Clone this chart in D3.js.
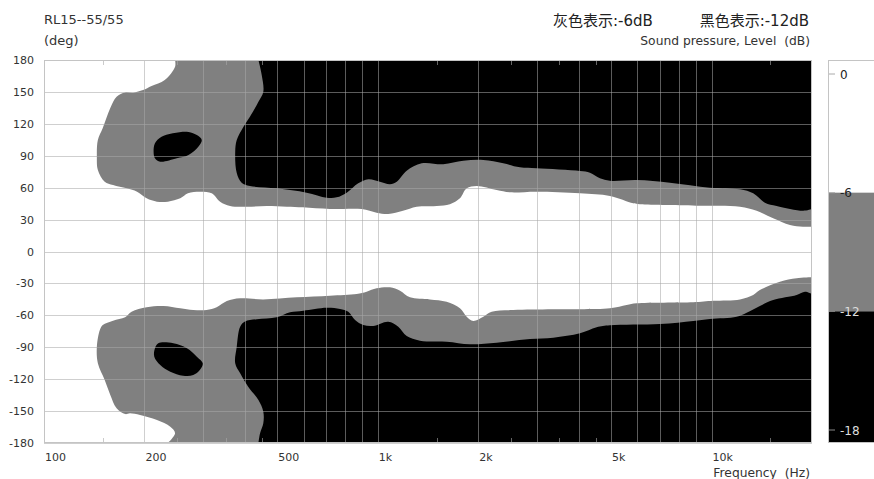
<!DOCTYPE html>
<html>
<head>
<meta charset="utf-8">
<script src="https://cdn.jsdelivr.net/npm/d3@7"></script>
<style>
  body { margin: 0; background: #fff; }
  svg { display: block; font-family: "DejaVu Sans", "Noto Sans CJK SC", sans-serif; }
</style>
</head>
<body>
<svg id="chart" width="874" height="479"></svg>
<script>
// ── data: contour boundaries, [Hz, deg] ──
const freqLabels   = [[100,"100"],[200,"200"],[500,"500"],[1000,"1k"],[2000,"2k"],[5000,"5k"],[10000,"10k"]];
const gridFreqs    = [200,300,400,500,600,700,800,900,1000,2000,3000,4000,5000,6000,7000,8000,9000,10000];
const minorFreqs   = [150,250,350,450,1500,2500,3500,4500,15000];
const angleTicks   = [180,150,120,90,60,30,0,-30,-60,-90,-120,-150,-180];
const levelTicks   = [0,-6,-12,-18];

// -6 dB contour, upper half (top edge -> left bulge -> right edge)
const upper6 = [[247,180],[247,173.7],[230,161.2],[210,155.6],[198,151.8],[185,149.3],[175,149.5],
  [165,145.5],[158,134.9],[150,116.1],[145,104.8],[144,89.1],[145,76.6],[152,65.6],[161,62.5],
  [177,59.4],[190,56.2],[203,50.0],[218,46.8],[235,46.8],[256,50.0],[270,54.7],[293,56.2],[318,54.7],
  [337,46.8],[361,42.8],[405,42.1],[465,42.8],[534,42.1],[597,41.5],[719,39.9],[895,39.9],[992,36.5],
  [1075,35.2],[1190,38.3],[1308,42.1],[1502,42.8],[1645,44.4],[1763,50.0],[1847,59.4],[1978,61.6],
  [2271,57.8],[2489,55.6],[2992,56.2],[4035,54.7],[4961,52.2],[5826,45.3],[6102,44.4],[9234,43.0],
  [12170,42.1],[13650,38.3],[15300,31.2],[17180,24.9],[18780,23.3],[20000,23.3]];

// -12 dB contour, upper half
const upper12 = [[439,180],[449,165.9],[454,150.2],[439,140.8],[414,126.7],[396,117.3],[378,104.8],
  [374,93.8],[378,73.8],[391,64.7],[414,61.6],[498,59.4],[612,55.3],[703,50.6],[753,50.9],[807,55.3],
  [874,64.1],[937,67.9],[1015,65.6],[1088,63.2],[1140,65.6],[1221,75.9],[1354,82.9],[1571,82.0],
  [1804,85.3],[2071,86.0],[2377,82.9],[2667,79.1],[2992,78.2],[4035,75.7],[4323,74.1],[4631,68.8],
  [4961,66.5],[5964,67.2],[7506,64.7],[9890,60.0],[12170,58.5],[13330,54.7],[14450,45.9],[15670,42.8],
  [18820,38.3],[20000,39.9]];

// -12 dB island, upper half
const upperIsland = [[215,101.7],[225,107.9],[268,112.6],[287,109.5],[297,104.8],[290,98.5],[271,90.7],
  [250,87.6],[223,84.4],[215,87.6],[213,93.8]];

// -6 dB contour, lower half
const lower6 = [[235,-180],[247,-170.9],[239,-164.7],[218,-158.4],[194,-153.7],[181,-152.1],[175,-152.8],
  [165,-147.4],[158,-134.9],[152,-120.8],[145,-105.1],[144,-89.5],[147,-73.8],[150,-69.1],[161,-65.0],
  [175,-61.9],[183,-56.6],[203,-52.4],[228,-51.2],[256,-53.4],[280,-55.0],[307,-55.0],[329,-52.4],
  [353,-46.5],[387,-44.0],[454,-45.0],[572,-43.1],[719,-41.6],[865,-40.0],[926,-37.8],[992,-34.6],
  [1088,-33.7],[1166,-36.9],[1249,-43.1],[1433,-45.0],[1608,-47.2],[1763,-53.4],[1847,-61.3],
  [1932,-65.3],[2071,-61.3],[2194,-56.6],[2546,-55.0],[3356,-54.3],[4961,-53.4],[5566,-50.3],
  [5964,-48.7],[8814,-47.7],[10120,-46.3],[12170,-45.0],[13330,-40.9],[13960,-36.2],[16030,-28.4],
  [17990,-25.2],[20000,-24.3]];

// -12 dB contour, lower half
const lower12 = [[439,-180],[444,-170.9],[454,-161.5],[454,-150.6],[439,-139.6],[409,-127.1],[387,-114.5],
  [374,-105.1],[378,-89.5],[387,-70.7],[400,-65.8],[434,-63.7],[498,-61.9],[546,-57.2],[598,-55.6],
  [703,-52.8],[771,-54.0],[816,-56.6],[855,-64.4],[905,-69.1],[969,-70.0],[1075,-66.0],[1152,-70.7],
  [1221,-79.4],[1338,-83.8],[1608,-84.8],[1889,-87.2],[2271,-85.7],[2858,-82.3],[3356,-81.0],
  [4035,-76.9],[4527,-71.2],[4961,-69.4],[7004,-68.2],[8814,-65.3],[9890,-63.4],[11890,-61.3],
  [12740,-57.5],[13960,-51.2],[15300,-45.6],[17990,-40.9],[19050,-37.8],[20000,-40.0]];

// -12 dB island, lower half
const lowerIsland = [[220,-86.3],[244,-86.3],[268,-91.0],[287,-98.9],[299,-105.1],[293,-111.4],
  [280,-116.1],[261,-116.7],[239,-113.0],[223,-106.7],[214,-98.9],[215,-91.0]];

// ── layout ──
const svg = d3.select("#chart");
const plot = { left: 44, top: 60, right: 812, bottom: 443 };
const GRAY = "#808080", BLACK = "#000";

const x = d3.scaleLog().domain([100, 20000]).range([plot.left, plot.right]);
const y = d3.scaleLinear().domain([180, -180]).range([plot.top, plot.bottom]);

svg.append("clipPath").attr("id", "clip")
  .append("rect")
    .attr("x", plot.left).attr("y", plot.top)
    .attr("width", plot.right - plot.left).attr("height", plot.bottom - plot.top);

const g = svg.append("g").attr("clip-path", "url(#clip)");

const line = d3.line().x(d => x(d[0])).y(d => y(d[1])).curve(d3.curveCatmullRom.alpha(0.5));
const ring = d3.line().x(d => x(d[0])).y(d => y(d[1])).curve(d3.curveCatmullRomClosed.alpha(0.5));

// region from a contour to the top (or bottom) edge
function band(pts, edge) {
  const ye = y(edge) + (edge > 0 ? -2 : 2);
  return line(pts) + `L${x(20000) + 2},${y(pts[pts.length - 1][1])}` +
         `L${x(20000) + 2},${ye}L${x(pts[0][0])},${ye}Z`;
}

g.append("rect")
  .attr("x", plot.left).attr("y", plot.top)
  .attr("width", plot.right - plot.left).attr("height", plot.bottom - plot.top)
  .attr("fill", "#fff");

g.append("path").attr("d", band(upper6, 180)).attr("fill", GRAY);
g.append("path").attr("d", band(lower6, -180)).attr("fill", GRAY);
g.append("path").attr("d", band(upper12, 180)).attr("fill", BLACK);
g.append("path").attr("d", band(lower12, -180)).attr("fill", BLACK);
g.append("path").attr("d", ring(upperIsland)).attr("fill", BLACK);
g.append("path").attr("d", ring(lowerIsland)).attr("fill", BLACK);

// grid on top of the map
const grid = svg.append("g")
  .attr("stroke", "#a8a8a8").attr("stroke-opacity", 0.55).attr("stroke-width", 1);
grid.selectAll("line.v").data(gridFreqs).join("line")
  .attr("x1", d => Math.round(x(d)) + 0.5).attr("x2", d => Math.round(x(d)) + 0.5)
  .attr("y1", plot.top).attr("y2", plot.bottom);
grid.selectAll("line.h").data(angleTicks).join("line")
  .attr("x1", plot.left).attr("x2", plot.right)
  .attr("y1", d => Math.round(y(d)) + 0.5).attr("y2", d => Math.round(y(d)) + 0.5);

// minor ticks, inside top and bottom edges
const minor = svg.append("g").attr("stroke", "#a8a8a8").attr("stroke-opacity", 0.6);
minor.selectAll("line.b").data(minorFreqs).join("line")
  .attr("x1", d => Math.round(x(d)) + 0.5).attr("x2", d => Math.round(x(d)) + 0.5)
  .attr("y1", plot.bottom).attr("y2", plot.bottom - 5);
minor.selectAll("line.t").data(minorFreqs).join("line")
  .attr("x1", d => Math.round(x(d)) + 0.5).attr("x2", d => Math.round(x(d)) + 0.5)
  .attr("y1", plot.top).attr("y2", plot.top + 5);

// frame
svg.append("rect")
  .attr("x", plot.left + 0.5).attr("y", plot.top + 0.5)
  .attr("width", plot.right - plot.left - 1).attr("height", plot.bottom - plot.top - 1)
  .attr("fill", "none").attr("stroke", "#c4c4c4");

// axis labels
svg.append("g").selectAll("text").data(angleTicks).join("text")
  .attr("x", 34).attr("y", d => y(d) + 4)
  .attr("text-anchor", "end").attr("font-size", 11).attr("fill", "#333")
  .text(d => d);

svg.append("g").selectAll("text").data(freqLabels).join("text")
  .attr("x", d => x(d[0]) + 1).attr("y", 461)
  .attr("font-size", 11).attr("fill", "#333")
  .text(d => d[1]);

// titles
svg.append("text").attr("x", 44).attr("y", 24).attr("font-size", 13).attr("fill", "#333").text("RL15--55/55");
svg.append("text").attr("x", 44).attr("y", 45).attr("font-size", 13).attr("fill", "#333").text("(deg)");
svg.append("text").attr("x", 553).attr("y", 26)
  .attr("font-size", 15).attr("fill", "#222").text("灰色表示:-6dB");
svg.append("text").attr("x", 809).attr("y", 26).attr("text-anchor", "end")
  .attr("font-size", 15).attr("fill", "#222").text("黑色表示:-12dB");
svg.append("text").attr("x", 810).attr("y", 45).attr("text-anchor", "end")
  .attr("font-size", 12.3).attr("fill", "#333").attr("xml:space", "preserve")
  .text("Sound pressure, Level  (dB)");
svg.append("text").attr("x", 810).attr("y", 477).attr("text-anchor", "end")
  .attr("font-size", 12.3).attr("fill", "#333").attr("xml:space", "preserve")
  .text("Frequency  (Hz)");

// colour bar
const lv = d3.scaleLinear().domain([0, -18]).range([74, 430]);
const bar = { left: 828, right: 880, top: 60, bottom: 443 };
const bands = [[bar.top, lv(-6), "#fff"], [lv(-6), lv(-12), GRAY], [lv(-12), bar.bottom, BLACK]];
svg.append("g").selectAll("rect").data(bands).join("rect")
  .attr("x", bar.left).attr("width", bar.right - bar.left)
  .attr("y", d => d[0]).attr("height", d => d[1] - d[0])
  .attr("fill", d => d[2]);
svg.append("rect")
  .attr("x", bar.left + 0.5).attr("y", bar.top + 0.5)
  .attr("width", bar.right - bar.left).attr("height", bar.bottom - bar.top - 1)
  .attr("fill", "none").attr("stroke", "#c4c4c4");
const lt = svg.append("g").selectAll("g").data(levelTicks).join("g")
  .attr("transform", d => `translate(${bar.left},${lv(d)})`);
lt.append("line").attr("x1", 1).attr("x2", 7).attr("stroke", d => d <= -12 ? "#888" : "#aaa");
lt.append("text").attr("x", 12).attr("y", 4.5).attr("font-size", 12)
  .attr("fill", d => d <= -12 ? "#ddd" : "#222")
  .text(d => d);
</script>
</body>
</html>
